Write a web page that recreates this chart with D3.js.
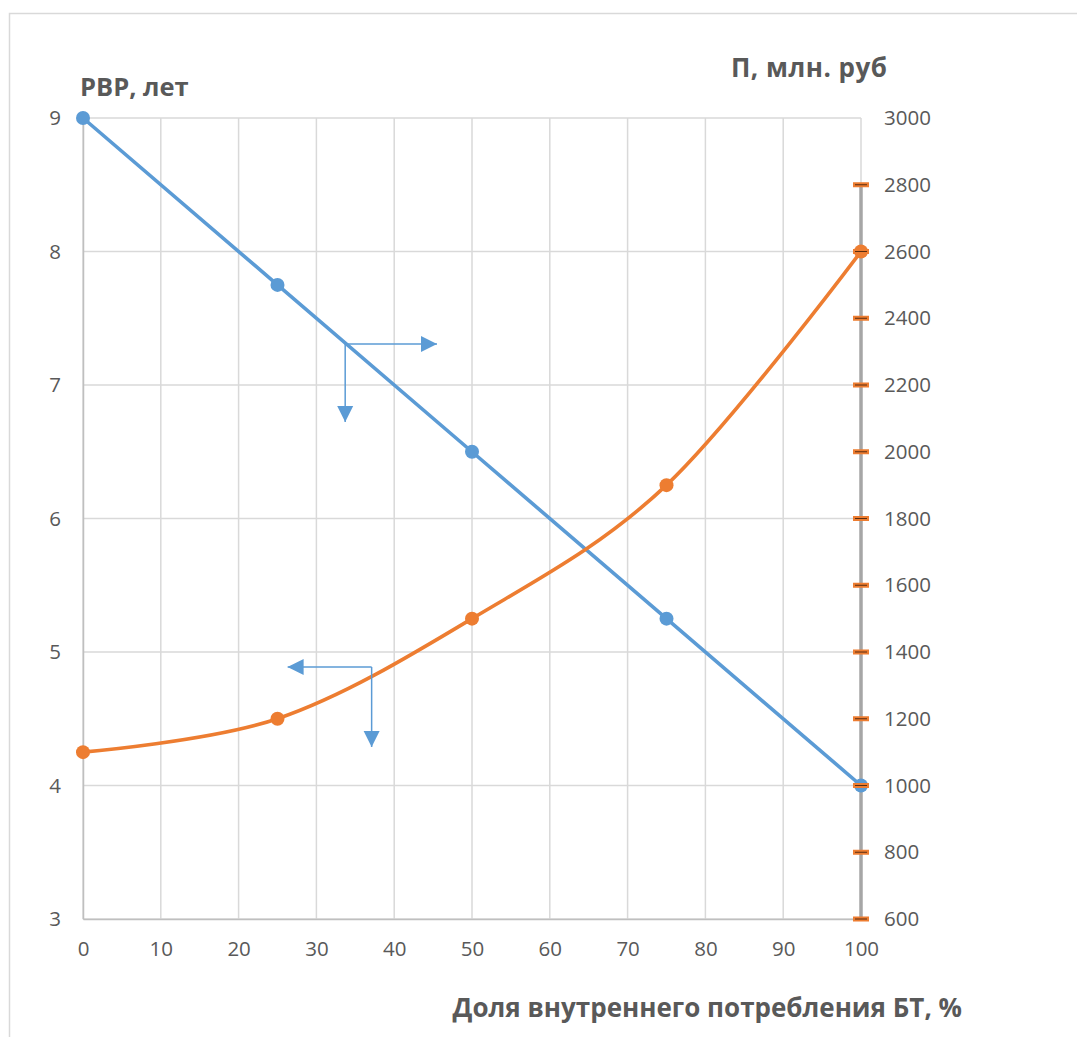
<!DOCTYPE html>
<html>
<head>
<meta charset="utf-8">
<script src="https://cdn.jsdelivr.net/npm/d3@7"></script>
<style>
  html, body { margin: 0; padding: 0; background: #fff; }
  svg { display: block; }
  text { font-family: "Open Sans", "Liberation Sans", sans-serif; fill: #595959; }
</style>
</head>
<body>
<svg id="chart" width="1077" height="1037"></svg>
<script>
// Share of domestic consumption, %
const shares = [0, 25, 50, 75, 100];
// Payback period, years (left axis)
const paybackYears = [9, 7.75, 6.5, 5.25, 4];
// Profit, mln rubles (right axis)
const profitMln = [1100, 1200, 1500, 1900, 2600];

const xTicks = [0, 10, 20, 30, 40, 50, 60, 70, 80, 90, 100];
const leftTicks = [3, 4, 5, 6, 7, 8, 9];
const rightTicks = [600, 800, 1000, 1200, 1400, 1600, 1800, 2000, 2200, 2400, 2600, 2800, 3000];

const leftTitle = "РВР, лет";
const rightTitle = "П, млн. руб";
const xTitle = "Доля внутреннего потребления БТ, %";

const blue = "#5b9bd5", orange = "#ed7d31", grid = "#d9d9d9";
const fmt = d3.format("d");

const svg = d3.select("#chart");
const plot = { left: 83, right: 861, top: 118, bottom: 919 };

const x = d3.scaleLinear().domain([0, 100]).range([plot.left, plot.right]);
const yL = d3.scaleLinear().domain([3, 9]).range([plot.bottom, plot.top]);
const yR = d3.scaleLinear().domain([600, 3000]).range([plot.bottom, plot.top]);

// outer frame
svg.append("rect").attr("x", 9.5).attr("y", 13.5).attr("width", 1100).attr("height", 1100)
  .attr("fill", "none").attr("stroke", "#d9d9d9").attr("stroke-width", 1.5);

// gridlines
const g = svg.append("g");
g.selectAll(".vg").data(xTicks).join("line")
  .attr("x1", d => x(d)).attr("x2", d => x(d))
  .attr("y1", plot.top).attr("y2", plot.bottom)
  .attr("stroke", grid).attr("stroke-width", 1.5);
g.selectAll(".hg").data(leftTicks).join("line")
  .attr("x1", plot.left).attr("x2", plot.right)
  .attr("y1", d => yL(d)).attr("y2", d => yL(d))
  .attr("stroke", grid).attr("stroke-width", 1.5);

// left and bottom axes
const leftAxis = d3.axisLeft(yL).tickValues(leftTicks).tickFormat(fmt).tickSize(0).tickPadding(22);
const la = svg.append("g").attr("transform", `translate(${plot.left},0)`).call(leftAxis);
la.select(".domain").attr("stroke", "#bfbfbf").attr("stroke-width", 1.5);
la.selectAll("text").attr("font-size", 20.5).attr("fill", "#595959");

const bottomAxis = d3.axisBottom(x).tickValues(xTicks).tickFormat(fmt).tickSize(0).tickPadding(22);
const ba = svg.append("g").attr("transform", `translate(0,${plot.bottom})`).call(bottomAxis);
ba.select(".domain").attr("stroke", "#bfbfbf").attr("stroke-width", 1.5);
ba.selectAll("text").attr("font-size", 20.5).attr("fill", "#595959");

// right axis: thick grey spine with orange tick marks
const rightAxis = d3.axisRight(yR).tickValues(rightTicks).tickFormat(fmt).tickSize(0).tickPadding(23);
const ra = svg.append("g").attr("transform", `translate(${plot.right},0)`).call(rightAxis);
ra.select(".domain").remove();
ra.selectAll("text").attr("font-size", 20.5).attr("fill", "#595959");
ra.insert("line", ":first-child")
  .attr("x1", 0).attr("x2", 0).attr("y1", yR(2800)).attr("y2", yR(600))
  .attr("stroke", "#a6a6a6").attr("stroke-width", 3.5);

// blue series (straight)
const lineL = d3.line().x((d, i) => x(shares[i])).y(d => yL(d));
svg.append("path").datum(paybackYears).attr("d", lineL)
  .attr("fill", "none").attr("stroke", blue).attr("stroke-width", 3.6);
svg.selectAll(".mL").data(paybackYears).join("circle")
  .attr("cx", (d, i) => x(shares[i])).attr("cy", d => yL(d)).attr("r", 7).attr("fill", blue);

// orange series (smoothed)
const lineR = d3.line().x((d, i) => x(shares[i])).y(d => yR(d)).curve(d3.curveCatmullRom.alpha(0));
svg.append("path").datum(profitMln).attr("d", lineR)
  .attr("fill", "none").attr("stroke", orange).attr("stroke-width", 3.6);
svg.selectAll(".mR").data(profitMln).join("circle")
  .attr("cx", (d, i) => x(shares[i])).attr("cy", d => yR(d)).attr("r", 7).attr("fill", orange);

// orange tick marks on right axis (on top of markers)
const tm = svg.append("g");
tm.selectAll("rect").data(rightTicks.filter(d => d < 3000)).join("rect")
  .attr("x", plot.right - 8).attr("y", d => yR(d) - 2.5).attr("width", 16).attr("height", 5)
  .attr("fill", orange);
tm.selectAll("line").data(rightTicks.filter(d => d < 3000)).join("line")
  .attr("x1", plot.right - 6).attr("x2", plot.right + 6)
  .attr("y1", d => yR(d)).attr("y2", d => yR(d))
  .attr("stroke", "#5a2d10").attr("stroke-width", 1);

// axis-direction arrows
const defs = svg.append("defs");
defs.append("marker").attr("id", "tri").attr("viewBox", "0 0 10 10")
  .attr("refX", 10).attr("refY", 5).attr("markerUnits", "userSpaceOnUse")
  .attr("markerWidth", 16).attr("markerHeight", 17).attr("orient", "auto")
  .append("path").attr("d", "M0,0 L10,5 L0,10 Z").attr("fill", blue);

function arrow(x1, y1, x2, y2) {
  svg.append("line").attr("x1", x1).attr("y1", y1).attr("x2", x2).attr("y2", y2)
    .attr("stroke", blue).attr("stroke-width", 1.5).attr("marker-end", "url(#tri)");
}
// blue line -> right axis
arrow(x(33.7), 344, x(45.5), 344);
arrow(x(33.7), 344, x(33.7), 422);
// orange line -> left axis
arrow(x(37.1), 667, x(26.3), 667);
arrow(x(37.1), 667, x(37.1), 747);

// axis titles
svg.append("text").attr("x", 80).attr("y", 96).attr("font-size", 25.5).attr("font-weight", "bold").text(leftTitle);
svg.append("text").attr("x", 731).attr("y", 77).attr("textLength", 156).attr("font-size", 26).attr("font-weight", "bold").text(rightTitle);
svg.append("text").attr("x", 962).attr("y", 1017).attr("text-anchor", "end")
  .attr("font-size", 26).attr("font-weight", "bold").text(xTitle);
</script>
</body>
</html>
